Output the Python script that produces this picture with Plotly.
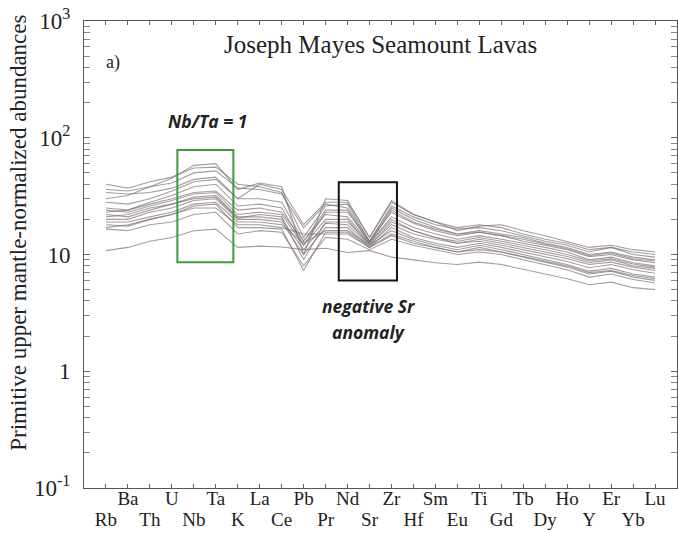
import plotly.graph_objects as go

elements = ["Rb", "Ba", "Th", "U", "Nb", "Ta", "K", "La", "Ce", "Pb", "Pr", "Nd", "Sr",
            "Zr", "Hf", "Sm", "Eu", "Ti", "Gd", "Tb", "Dy", "Ho", "Y", "Er", "Yb", "Lu"]

s01 = [40, 37, 42, 46, 55, 56, 40, 38, 34, 14, 26, 27, 13, 26, 21, 18, 16.5, 17, 16, 14.5, 13, 12, 10.5, 11.5, 10, 9.5]
s02 = [30, 32, 38, 45, 58, 60, 36, 41, 38, 10, 30, 29, 14, 29, 22, 19, 16, 17.5, 18, 16, 14.5, 13, 11.5, 12, 11, 10.5]
s03 = [36, 35, 38, 41, 50, 52, 37, 36, 33, 17, 27, 25, 13, 25, 20, 17, 15, 16, 15, 14, 12.5, 11.5, 10, 10.5, 9.5, 9]
s04 = [25, 24, 27, 30, 34, 35, 24, 25, 23, 13, 22, 21, 12.5, 21, 17, 15, 13.5, 14.5, 13.5, 12.5, 11.5, 10.5, 9, 9.5, 8.5, 8]
s05 = [24, 23, 26, 29, 33, 34, 22, 23, 22, 12, 20, 20, 12, 19, 16, 14, 13, 14, 13, 12, 11, 10, 8.8, 9.2, 8.3, 7.8]
s06 = [22, 21, 24, 27, 31, 32, 21, 21, 20, 11, 18.5, 18, 12, 18, 15, 13.5, 12.5, 13, 12, 11, 10, 9.2, 8.2, 8.6, 7.8, 7.3]
s07 = [20, 20, 23, 25, 29, 30, 20, 20, 19, 10, 17, 17, 11.5, 17, 14, 12.5, 11.5, 12.5, 11.5, 10.5, 9.5, 8.7, 7.7, 8.2, 7.4, 6.9]
s08 = [19, 19, 21, 23, 27, 28, 19, 19, 18, 12.5, 16, 16, 12, 16, 13.5, 12, 11, 12, 11, 10, 9, 8.2, 7.2, 7.6, 6.8, 6.4]
s09 = [21, 22, 25, 27, 30, 31, 20.5, 22, 21, 9, 19, 19, 12.5, 20, 16, 14, 12.5, 13.5, 12.5, 11.5, 10.5, 9.6, 8.5, 9, 8, 7.6]
s10 = [17, 18, 20, 22, 25, 25, 18, 18, 17, 15, 15, 15, 11.5, 15, 13, 11.5, 10.5, 11.5, 10.5, 9.5, 8.6, 7.8, 6.8, 7.2, 6.4, 6.0]
s11 = [16.5, 16, 18, 19, 22, 23, 15, 16, 15.5, 8, 14, 13.5, 11, 13.5, 12, 11, 10, 10.5, 10, 9, 8.2, 7.4, 6.4, 6.8, 6.1, 5.7]
s12 = [10.8, 11.5, 13, 14, 16, 16.5, 11.5, 11.8, 11.6, 11, 11.3, 10.4, 10.8, 9.5, 9, 8.5, 8.2, 8.6, 8.2, 7.5, 6.8, 6.2, 5.5, 5.8, 5.2, 5.0]
s13 = [28, 27, 30, 35, 42, 44, 30, 40, 36, 18, 28, 28, 14, 28, 22, 19, 17, 18, 17, 15, 13.5, 12.5, 11, 11.5, 10.5, 10]
s14 = [23, 24, 28, 32, 38, 40, 26, 27, 25, 12, 23, 23, 13, 23, 18.5, 16, 14.5, 15.5, 14.5, 13, 12, 11, 9.6, 10, 9, 8.5]
s15 = [18, 17.5, 20, 22, 26, 27, 17, 17, 16.5, 7.3, 15.5, 15.5, 11.5, 14.5, 12.5, 11.5, 10.5, 11, 10.5, 9.6, 8.7, 8, 7, 7.3, 6.6, 6.2]
s16 = [34, 33, 34, 37, 44, 46, 30, 30, 28, 13, 24, 24, 12.5, 24, 19, 16.5, 15, 15.5, 14.5, 13.5, 12.3, 11.2, 9.8, 10.3, 9.2, 8.8]

samples = [s01, s02, s03, s04, s05, s06, s07, s08, s09, s10, s11, s12, s13, s14, s15, s16]

y_tick_vals = [0.1, 1, 10, 100, 1000]
y_tick_text = ["10<sup>-1</sup>", "1", "10", "10<sup>2</sup>", "10<sup>3</sup>"]

positions = list(range(1, len(elements) + 1))
odd_pos = positions[0::2]
odd_lab = elements[0::2]
even_pos = positions[1::2]
even_lab = elements[1::2]

fig = go.Figure()
for s in samples:
    fig.add_trace(go.Scatter(x=positions, y=s, mode="lines",
                             line=dict(color="rgba(125,115,115,0.7)", width=1.1),
                             showlegend=False, hoverinfo="skip"))
# invisible trace for secondary x axis (top-row labels)
fig.add_trace(go.Scatter(x=[positions[0]], y=[1], xaxis="x2", mode="markers",
                         marker=dict(opacity=0), showlegend=False, hoverinfo="skip"))

serif = "Liberation Serif"
sans = "Open Sans"
minor_y = [m * 10 ** e for e in range(-1, 3) for m in range(2, 10)]

fig.update_layout(
    width=678, height=533,
    margin=dict(l=84, r=1, t=21, b=45),
    paper_bgcolor="white", plot_bgcolor="white",
    font=dict(family=serif, color="#222"),
    xaxis=dict(range=[0, 27], tickvals=odd_pos, ticktext=odd_lab,
               ticks="inside", ticklen=4, tickcolor="#666", tickwidth=1,
               minor=dict(tickvals=even_pos, ticks="inside", ticklen=4, tickcolor="#666",
                          tickwidth=1, showgrid=False),
               showline=True, linecolor="#555", linewidth=1, mirror="allticks",
               showgrid=False, zeroline=False, ticklabelstandoff=14, automargin=False,
               tickfont=dict(family=serif, size=19, color="#222")),
    xaxis2=dict(range=[0, 27], overlaying="x", anchor="y", side="bottom",
                tickvals=even_pos, ticktext=even_lab, ticks="", showline=False,
                showgrid=False, zeroline=False, ticklabelstandoff=-3, automargin=False,
                tickfont=dict(family=serif, size=19, color="#222")),
    yaxis=dict(type="log", range=[-1, 3], tickvals=y_tick_vals, ticktext=y_tick_text,
               ticks="inside", ticklen=6, tickcolor="#666", tickwidth=1,
               minor=dict(tickvals=minor_y, ticks="inside", ticklen=3, tickcolor="#888", showgrid=False),
               showline=True, linecolor="#555", linewidth=1, mirror="allticks",
               showgrid=False, zeroline=False, ticklabelstandoff=8, automargin=False,
               tickfont=dict(family=serif, size=23, color="#222")),
    shapes=[
        dict(type="rect", xref="x", yref="y", x0=4.25, x1=6.8, y0=8.6, y1=78.5,
             line=dict(color="#3f9a3f", width=2)),
        dict(type="rect", xref="x", yref="y", x0=11.6, x1=14.25, y0=6.0, y1=41.5,
             line=dict(color="#151515", width=2)),
    ],
    annotations=[
        dict(text="Primitive upper mantle-normalized abundances", textangle=-90,
             xref="paper", yref="paper", x=-0.111, y=0.547, xanchor="center", yanchor="middle",
             showarrow=False, font=dict(family=serif, size=23, color="#222")),
        dict(text="Joseph Mayes Seamount Lavas", xref="paper", yref="paper", x=0.5, y=0.949,
             xanchor="center", yanchor="middle",
             showarrow=False, font=dict(family=serif, size=25, color="#222")),
        dict(text="a)", xref="paper", yref="paper", x=0.049, y=0.912,
             xanchor="center", yanchor="middle",
             showarrow=False, font=dict(family=serif, size=18, color="#222")),
        dict(text="<b><i>Nb/Ta = 1</i></b>", xref="x", yref="paper", x=5.62, y=0.786,
             xanchor="center", yanchor="middle",
             showarrow=False, font=dict(family=sans, size=17.5, color="#222")),
        dict(text="<b><i>negative Sr</i></b>", xref="x", yref="paper", x=12.96, y=0.390,
             xanchor="center", yanchor="middle",
             showarrow=False, font=dict(family=sans, size=17.5, color="#222")),
        dict(text="<b><i>anomaly</i></b>", xref="x", yref="paper", x=12.96, y=0.335,
             xanchor="center", yanchor="middle",
             showarrow=False, font=dict(family=sans, size=17.5, color="#222")),
    ],
)

fig.write_html("out.html", config=dict(displayModeBar=False),
               post_script="document.body.style.margin='0';")
